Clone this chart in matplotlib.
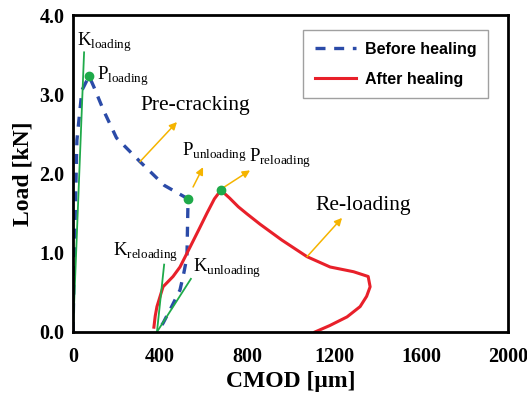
import matplotlib
matplotlib.use('Agg')
import matplotlib.pyplot as plt

plt.rcParams['font.family'] = ['Liberation Serif', 'DejaVu Serif']
plt.rcParams['mathtext.fontset'] = 'custom'
plt.rcParams['mathtext.rm'] = 'Liberation Serif'

# before healing (pre-cracking) curve
before_x = [0, 8, 18, 41, 74, 95, 140, 200, 308, 420, 529, 527, 524, 510, 492, 450, 414, 386]
before_y = [0, 1.2, 2.42, 3.05, 3.23, 3.1, 2.8, 2.45, 2.15, 1.85, 1.68, 1.4, 0.95, 0.75, 0.53, 0.3, 0.11, 0.0]

# after healing (re-loading) curve
after_x = [372, 378, 386, 414, 460, 492, 538, 580, 616, 650, 680, 720, 760, 800, 860, 960, 1076, 1182, 1290, 1357, 1366, 1350, 1320, 1260, 1180, 1113]
after_y = [0.06, 0.2, 0.32, 0.57, 0.7, 0.82, 1.07, 1.3, 1.5, 1.68, 1.79, 1.69, 1.58, 1.49, 1.36, 1.16, 0.95, 0.82, 0.76, 0.70, 0.57, 0.45, 0.32, 0.19, 0.08, 0.0]

# stiffness lines
k_loading_x = [0, 51]
k_loading_y = [0, 3.53]
k_reloading_x = [386, 419]
k_reloading_y = [0, 0.85]
k_unloading_x = [386, 542]
k_unloading_y = [0, 0.67]

# key points
pts_x = [74, 529, 680]
pts_y = [3.23, 1.68, 1.79]

fig = plt.figure(figsize=(5.27, 3.98), dpi=100)
ax = fig.add_axes([0.1385, 0.166, 0.8255, 0.796])

ax.plot(before_x, before_y, color='#2B4BA8', lw=2.4, ls=(0, (3, 2.6)), label='Before healing')
ax.plot(after_x, after_y, color='#E8202A', lw=2.2, label='After healing')

green = '#1FAA4A'
ax.plot(k_loading_x, k_loading_y, color=green, lw=1.3)
ax.plot(k_reloading_x, k_reloading_y, color=green, lw=1.3)
ax.plot(k_unloading_x, k_unloading_y, color=green, lw=1.3)
ax.plot(pts_x, pts_y, 'o', color=green, ms=6, zorder=5)

gold = '#F5B400'
arrows = [((308, 2.15), (478, 2.65)),
          ((552, 1.83), (598, 2.08)),
          ((690, 1.82), (814, 2.04)),
          ((1076, 0.95), (1237, 1.44))]
for (x0, y0), (x1, y1) in arrows:
    ax.annotate('', xy=(x1, y1), xytext=(x0, y0),
                arrowprops=dict(arrowstyle='-|>', color=gold, lw=1.1,
                                mutation_scale=11, shrinkA=0, shrinkB=0))

ax.text(308, 2.86, 'Pre-cracking', fontsize=15.5, va='center')
ax.text(1113, 1.6, 'Re-loading', fontsize=15.5, va='center')
ax.text(18, 3.66, r'K$_\mathregular{loading}$', fontsize=13.5, va='center')
ax.text(112, 3.23, r'P$_\mathregular{loading}$', fontsize=13.5, va='center')
ax.text(499, 2.27, r'P$_\mathregular{unloading}$', fontsize=13.5, va='center')
ax.text(808, 2.19, r'P$_\mathregular{reloading}$', fontsize=13.5, va='center')
ax.text(184, 1.01, r'K$_\mathregular{reloading}$', fontsize=13.5, va='center')
ax.text(552, 0.8, r'K$_\mathregular{unloading}$', fontsize=13.5, va='center')

ax.set_xlim(0, 2000)
ax.set_ylim(0, 4.0)
ax.set_xticks([0, 400, 800, 1200, 1600, 2000])
ax.set_yticks([0.0, 1.0, 2.0, 3.0, 4.0])
ax.set_yticklabels(['0.0', '1.0', '2.0', '3.0', '4.0'])
ax.tick_params(length=0, labelsize=14.5)
ax.tick_params(axis='x', pad=11)
ax.tick_params(axis='y', pad=6)
for lab in ax.get_xticklabels() + ax.get_yticklabels():
    lab.set_fontweight('bold')
for sp in ax.spines.values():
    sp.set_linewidth(2)

ax.set_xlabel('CMOD [μm]', fontsize=17, fontweight='bold', labelpad=3)
ax.set_ylabel('Load [kN]', fontsize=17, fontweight='bold', labelpad=4)

leg = ax.legend(loc='upper right', bbox_to_anchor=(0.954, 0.953),
                prop={'family': 'Liberation Sans', 'weight': 'bold', 'size': 11.5},
                frameon=True, fancybox=False, edgecolor='#888888',
                handlelength=2.6, handletextpad=0.55, borderpad=0.72,
                labelspacing=0.95, borderaxespad=0)
leg.get_frame().set_linewidth(1.0)

fig.savefig('out.png', dpi=100)
